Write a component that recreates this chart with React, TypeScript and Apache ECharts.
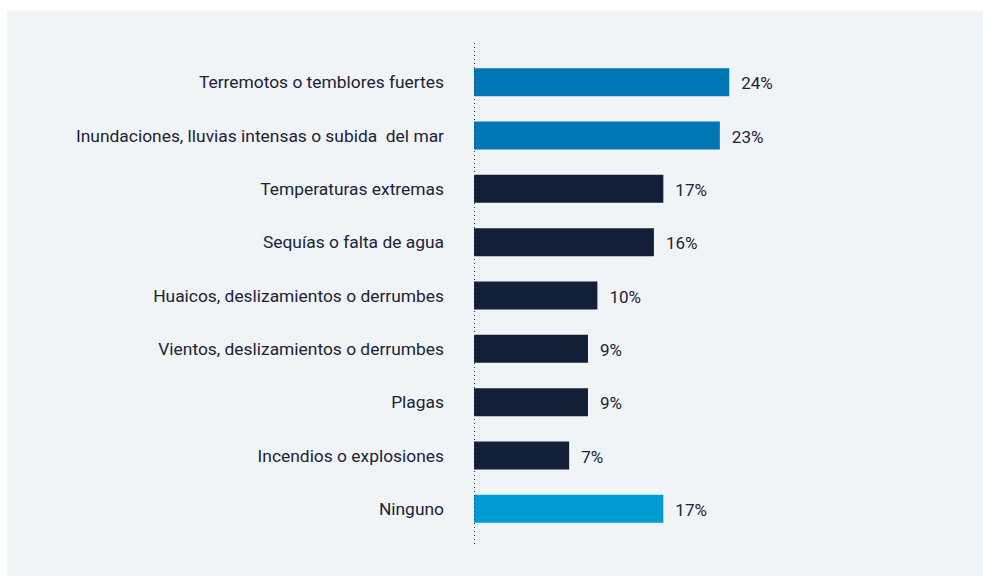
import React, { useEffect, useRef } from "react";
import * as echarts from "echarts";

const categories = [
  "Terremotos o temblores fuertes",
  "Inundaciones, lluvias intensas o subida  del mar",
  "Temperaturas extremas",
  "Sequías o falta de agua",
  "Huaicos, deslizamientos o derrumbes",
  "Vientos, deslizamientos o derrumbes",
  "Plagas",
  "Incendios o explosiones",
  "Ninguno",
];
const values = [24, 23, 17, 16, 10, 9, 9, 7, 17];
const barColors = [
  "#0077b5",
  "#0077b5",
  "#131f36",
  "#131f36",
  "#131f36",
  "#131f36",
  "#131f36",
  "#131f36",
  "#009bd2",
];

const TEXT = "#1b2336";
const FONT = "Roboto, 'Noto Sans', sans-serif";
const X_MIN = -3.1;

export default function App() {
  const ref = useRef<HTMLDivElement>(null);
  useEffect(() => {
    if (!ref.current) return;
    const chart = echarts.init(ref.current, undefined, { renderer: "svg" });
    chart.setOption({
      animation: false,
      backgroundColor: "#ffffff",
      graphic: [
        {
          type: "rect",
          z: -10,
          shape: { x: 7, y: 11, width: 976, height: 565 },
          style: { fill: "#f1f4f6" },
          silent: true,
        },
        {
          type: "line",
          z: 100,
          shape: { x1: 474.5, y1: 43, x2: 474.5, y2: 545 },
          style: { stroke: "#3a3f4a", lineWidth: 1, lineDash: [1, 3] },
          silent: true,
        },
      ],
      grid: { left: 474, top: 55.5, width: 406, height: 480 },
      xAxis: {
        type: "value",
        min: X_MIN,
        max: 40,
        show: false,
      },
      yAxis: {
        type: "category",
        inverse: true,
        data: categories,
        axisLine: { show: false },
        axisTick: { show: false },
        axisLabel: {
          margin: 30,
          color: TEXT,
          fontSize: 17.4,
          fontFamily: FONT,
        },
      },
      series: [
        {
          type: "custom",
          encode: { x: 0, y: 1 },
          data: values.map((v, i) => [v, i]),
          renderItem: (params: any, api: any) => {
            const idx = api.value(1);
            const v = api.value(0);
            const start = api.coord([X_MIN, idx]);
            const end = api.coord([v, idx]);
            const h = 28;
            return {
              type: "group",
              children: [
                {
                  type: "rect",
                  shape: { x: start[0], y: start[1] - h / 2, width: end[0] - start[0], height: h },
                  style: { fill: barColors[idx] },
                },
                {
                  type: "text",
                  style: {
                    text: v + "%",
                    x: end[0] + 12,
                    y: end[1] + 1,
                    align: "left",
                    verticalAlign: "middle",
                    fontSize: 17,
                    fontWeight: "normal",
                    fontFamily: FONT,
                    fill: TEXT,
                  },
                },
              ],
            };
          },
        },
      ],
    });
    return () => chart.dispose();
  }, []);
  return (
    <div
      ref={ref}
      style={{ position: "fixed", left: 0, top: 0, width: 983, height: 576 }}
    />
  );
}
